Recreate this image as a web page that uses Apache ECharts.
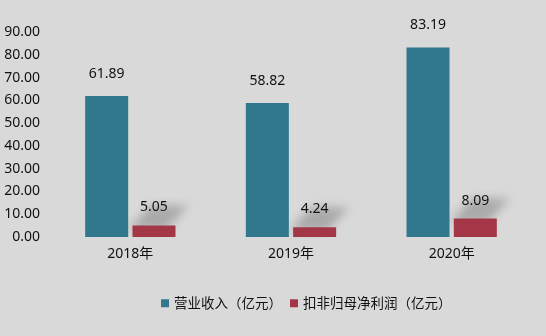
<!DOCTYPE html>
<html><head><meta charset="utf-8">
<script src="https://cdn.jsdelivr.net/npm/echarts@6/dist/echarts.min.js"></script>
<style>html,body{margin:0;padding:0;background:#d9d9d9}#c{width:546px;height:336px}</style>
</head><body><div id="c"></div>
<script>
const categories = ['2018年', '2019年', '2020年'];
const revenue = [61.89, 58.82, 83.19];
const netProfit = [5.05, 4.24, 8.09];
const seriesNames = ['营业收入（亿元）', '扣非归母净利润（亿元）'];
const yTicks = {min: 0, max: 90, interval: 10};

const font = '"Noto Sans", "Noto Sans CJK SC", sans-serif';
const cjkFont = '"Noto Sans CJK SC", sans-serif';
const BAR_W = 43, GAP = 4, FAR = 2000;
const chart = echarts.init(document.getElementById('c'));
chart.setOption({
  backgroundColor: '#d9d9d9',
  animation: false,
  textStyle: {fontFamily: font},
  grid: {left: 50, right: 14, top: 32, bottom: 99, containLabel: false},
  legend: {
    bottom: 21, left: 156, itemWidth: 8, itemHeight: 8, itemGap: 8,
    textStyle: {fontSize: 13.5, color: '#111', fontFamily: cjkFont},
    data: seriesNames.map(n => ({name: n, icon: 'rect'}))
  },
  xAxis: {
    type: 'category', data: categories,
    axisLine: {show: false}, axisTick: {show: false},
    axisLabel: {fontSize: 14, color: '#111', margin: 10, fontFamily: font}
  },
  yAxis: {
    type: 'value', min: yTicks.min, max: yTicks.max, interval: yTicks.interval,
    splitLine: {show: false}, axisLine: {show: false}, axisTick: {show: false},
    axisLabel: {fontSize: 14, color: '#111', margin: 10, fontFamily: font,
      formatter: v => v.toFixed(2)}
  },
  series: [
    {
      type: 'custom', z: 1, silent: true, clip: false,
      data: netProfit.map((v, i) => [i, v]),
      renderItem: (params, api) => {
        const c = api.coord([api.value(0), api.value(1)]);
        const x0 = c[0] + GAP / 2 - FAR, y = c[1];
        return {
          type: 'polygon',
          shape: {points: [[x0 - 4, y + 4], [x0 + 34, y + 4], [x0 + 56, y - 20], [x0 + 18, y - 20]]},
          style: {fill: '#000', shadowBlur: 10, shadowColor: 'rgba(0,0,0,0.22)', shadowOffsetX: FAR, shadowOffsetY: 0}
        };
      }
    },
    {
      name: seriesNames[0], type: 'bar', data: revenue, z: 2,
      barWidth: BAR_W, barGap: '10%',
      itemStyle: {color: '#31778d'},
      label: {show: true, position: 'top', distance: 15, fontSize: 14, color: '#111',
        fontFamily: font, formatter: p => p.value.toFixed(2)}
    },
    {
      name: seriesNames[1], type: 'bar', data: netProfit, z: 2,
      barWidth: BAR_W,
      itemStyle: {color: '#a33747'},
      label: {show: true, position: 'top', distance: 11, fontSize: 14, color: '#111',
        fontFamily: font, formatter: p => p.value.toFixed(2)}
    }
  ]
});
</script></body></html>
